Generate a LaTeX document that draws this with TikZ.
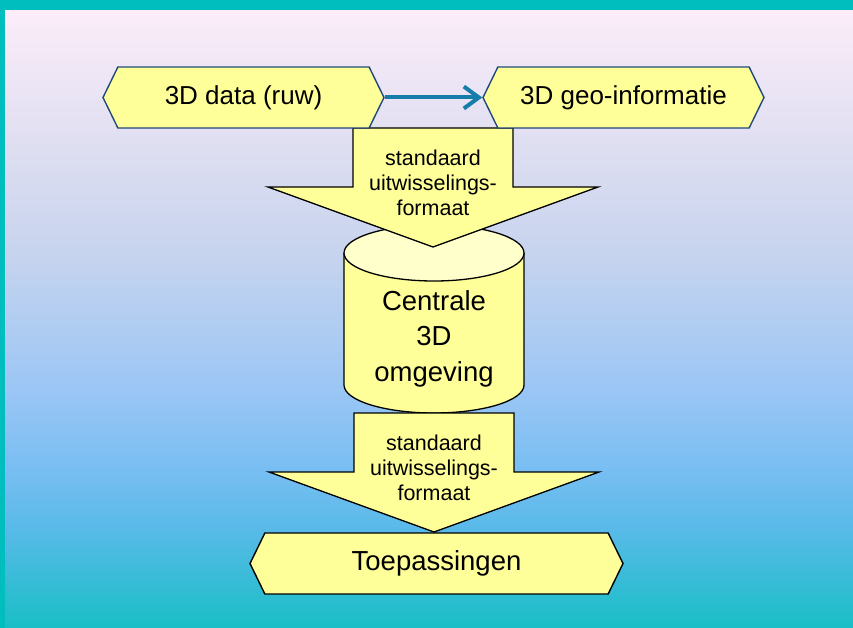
\documentclass[tikz,border=0pt]{standalone}
\usepackage{fontspec}
\setmainfont{Liberation Sans}
\usetikzlibrary{arrows.meta,shapes.symbols}
\definecolor{frameC}{RGB}{0,190,190}
\definecolor{bg0}{RGB}{25,190,198}
\definecolor{bg1}{RGB}{88,186,232}
\definecolor{bg2}{RGB}{120,190,242}
\definecolor{bg3}{RGB}{155,198,245}
\definecolor{bg4}{RGB}{200,212,238}
\definecolor{bg5}{RGB}{226,224,242}
\definecolor{bg6}{RGB}{252,237,249}
\definecolor{padC}{RGB}{255,255,153}
\definecolor{capC}{RGB}{255,255,204}
\definecolor{hexLine}{RGB}{31,73,125}
\definecolor{linkC}{RGB}{20,125,170}
\pgfdeclareverticalshading{slidebg}{100bp}{color(0bp)=(bg0); color(25bp)=(bg0); color(33bp)=(bg1); color(37.8bp)=(bg2); color(44.3bp)=(bg3); color(55.6bp)=(bg4); color(65.3bp)=(bg5); color(75bp)=(bg6); color(100bp)=(bg6)}
\tikzset{
  hexbox/.style={shape=signal, signal to=west and east, signal pointer angle=128,
    fill=padC, draw=hexLine, line width=1.4pt, inner sep=0pt, minimum height=61pt},
  blockarrow/.style={fill=padC, draw=black, line width=1.3pt, line join=miter},
  fmttext/.style={align=center, font=\fontsize{21.5}{25}\selectfont},
  linkarrow/.style={linkC, line width=4pt, -{Straight Barb[length=15pt,width=22pt]}}
}

\begin{document}
\begin{tikzpicture}[x=1pt,y=-1pt]
\useasboundingbox (0,0) rectangle (853,628);
% slide background
\shade[shading=slidebg] (0,10) rectangle (853,628);
\fill[frameC] (0,0) rectangle (853,10);
\fill[frameC] (0,0) rectangle (5,628);

% central store
\draw[fill=padC, line width=1.3pt] (344,253) -- (344,385)
  arc[start angle=180, end angle=360, x radius=90pt, y radius=28pt] -- (524,253);
\draw[fill=capC, line width=1.3pt] (434,253) ellipse[x radius=90pt, y radius=28pt];
\node[align=center, font=\fontsize{27.5}{35.5}\selectfont] (core) at (434,338.5) {Centrale\\3D\\omgeving};

% exchange formats
\foreach \cx/\t/\n in {433/128/fmtTop, 434/413/fmtBot} {
  \draw[blockarrow] (\cx-80,\t) -- (\cx-80,\t+59) -- (\cx-165,\t+59) -- (\cx,\t+119)
    -- (\cx+165,\t+59) -- (\cx+80,\t+59) -- (\cx+80,\t) -- cycle;
  \node[fmttext] (\n) at (\cx,\t+55) {standaard\\uitwisselings-\\formaat};
}

% sources and applications
\node[hexbox, minimum width=281pt, font=\fontsize{26}{30}\selectfont] (raw) at (243.5,97.5) {3D data (ruw)};
\node[hexbox, minimum width=281pt, font=\fontsize{26}{30}\selectfont] (geo) at (623.5,97.5) {3D geo-informatie};
\node[hexbox, draw=black, minimum width=373pt, font=\fontsize{27.5}{32}\selectfont] (apps) at (436.5,563.5) {Toepassingen};

\draw[linkarrow] (raw.east) -- (geo.west);
\end{tikzpicture}
\end{document}
